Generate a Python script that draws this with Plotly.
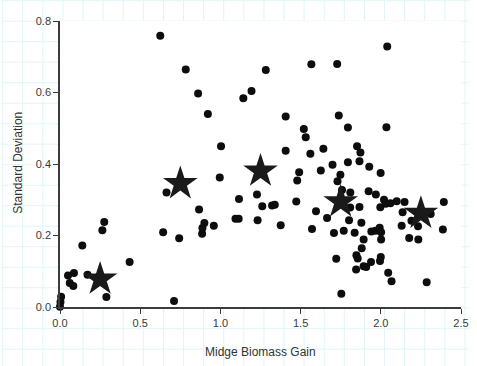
import plotly.graph_objects as go

# Individual observations
gain = [0.625, 0.784, 0.861, 0.922, 1.004, 1.143, 1.194, 1.283, 1.407, 1.407,
        2.040, 1.567, 1.728, 1.738, 1.520, 1.532, 1.795, 2.035, 1.561, 1.642,
        1.852, 1.873, 1.795, 1.867, 1.699, 1.928, 1.626, 1.491, 1.999, 1.479,
        1.748, 1.730, 1.758, 1.810, 1.924, 1.969, 2.020, 2.031, 2.060, 2.099,
        2.148, 1.473, 1.809, 1.867, 1.997, 1.596, 2.136, 2.311, 2.393, 1.665,
        1.802, 1.879, 2.191, 2.232, 2.130, 1.571, 1.708, 1.769, 1.837, 1.941,
        1.966, 1.993, 2.002, 2.002, 1.893, 2.177, 2.234, 2.387, 1.881, 1.722,
        1.848, 1.856, 2.000, 1.995, 1.939, 1.893, 1.909, 1.846, 2.046, 2.067,
        2.286, 1.754, 0.996, 0.664, 1.116, 1.228, 1.261, 1.322, 1.339, 0.867,
        1.094, 1.114, 1.232, 1.376, 0.900, 0.888, 0.959, 0.886, 0.643, 0.743,
        0.276, 0.264, 0.139, 0.434, 0.050, 0.087, 0.061, 0.083, 0.172, 0.289,
        0.711, 0.007, 0.003, 0.000]
sd = [0.759, 0.664, 0.597, 0.540, 0.450, 0.584, 0.604, 0.663, 0.533, 0.437,
      0.729, 0.679, 0.680, 0.536, 0.498, 0.475, 0.502, 0.503, 0.429, 0.443,
      0.450, 0.432, 0.405, 0.408, 0.398, 0.392, 0.382, 0.377, 0.375, 0.354,
      0.370, 0.352, 0.327, 0.320, 0.324, 0.315, 0.300, 0.289, 0.290, 0.296,
      0.294, 0.295, 0.278, 0.280, 0.279, 0.268, 0.265, 0.260, 0.294, 0.249,
      0.243, 0.236, 0.241, 0.226, 0.227, 0.218, 0.207, 0.213, 0.208, 0.211,
      0.213, 0.222, 0.209, 0.189, 0.189, 0.193, 0.189, 0.217, 0.164, 0.135,
      0.145, 0.136, 0.140, 0.129, 0.126, 0.114, 0.112, 0.105, 0.096, 0.072,
      0.069, 0.037, 0.362, 0.320, 0.302, 0.315, 0.282, 0.284, 0.286, 0.273,
      0.247, 0.247, 0.243, 0.229, 0.235, 0.221, 0.227, 0.205, 0.209, 0.192,
      0.238, 0.215, 0.172, 0.126, 0.088, 0.095, 0.067, 0.059, 0.090, 0.028,
      0.017, 0.029, 0.014, 0.001]

# Bin means (stars)
star_gain = [0.25, 0.75, 1.25, 1.75, 2.25]
star_sd = [0.078, 0.345, 0.380, 0.294, 0.262]

x_ticks = [0.0, 0.5, 1.0, 1.5, 2.0, 2.5]
y_ticks = [0.0, 0.2, 0.4, 0.6, 0.8]

W, H = 477, 366
ML, MR, MT, MB = 60, 8, 21, 59
pw, ph = W - ML - MR, H - MT - MB

fig = go.Figure()
fig.add_trace(go.Scatter(x=gain, y=sd, mode="markers",
                         marker=dict(size=8, color="#0d0d0d"),
                         cliponaxis=False, showlegend=False))
fig.add_trace(go.Scatter(x=star_gain, y=star_sd, mode="markers",
                         marker=dict(symbol="star", size=26, color="#1a1a1a"),
                         cliponaxis=False, showlegend=False))

# graph-paper background outside the plot area
shapes = []
grid_col = "#e2f4f5"
def px2x(p):
    return (p - ML) / pw
def py2y(p):
    return (H - MB - p) / ph
k = 0
while 1.5 + 20.5 * k < W:
    p = 1.5 + 20.5 * k
    shapes.append(dict(type="line", xref="paper", yref="paper", x0=px2x(p), x1=px2x(p),
                       y0=py2y(0), y1=py2y(H), line=dict(color=grid_col, width=1), layer="below"))
    k += 1
k = 0
while 0.7 + 20.5 * k < H:
    p = 0.7 + 20.5 * k
    shapes.append(dict(type="line", xref="paper", yref="paper", x0=px2x(0), x1=px2x(W),
                       y0=py2y(p), y1=py2y(p), line=dict(color=grid_col, width=1), layer="below"))
    k += 1
shapes.append(dict(type="rect", xref="paper", yref="paper", x0=0, x1=1, y0=0, y1=1,
                   fillcolor="white", line=dict(width=0), layer="below"))

axis_common = dict(showgrid=False, zeroline=False, showline=True, linecolor="#3c3c3c",
                   linewidth=1.5, ticks="outside", ticklen=5, tickcolor="#3c3c3c",
                   tickwidth=1.2, tickfont=dict(family="Liberation Sans, Arial", size=11, color="#3a3a3a"),
                   tickformat=".1f")

fig.update_layout(
    width=W, height=H,
    margin=dict(l=ML, r=MR, t=MT, b=MB, pad=0),
    paper_bgcolor="white", plot_bgcolor="rgba(0,0,0,0)",
    shapes=shapes,
    xaxis=dict(range=[0, 2.5], tickvals=x_ticks, **axis_common),
    yaxis=dict(range=[0, 0.8], tickvals=y_ticks, **axis_common),
    annotations=[
        dict(text="Midge Biomass Gain", xref="paper", yref="paper", x=0.5, y=py2y(352),
             showarrow=False, xanchor="center", yanchor="middle",
             font=dict(family="Liberation Sans, Arial", size=12, color="#333")),
        dict(text="Standard Deviation", xref="paper", yref="paper", x=px2x(17), y=py2y(163),
             showarrow=False, xanchor="center", yanchor="middle", textangle=-90,
             font=dict(family="Liberation Sans, Arial", size=12, color="#333")),
    ],
)

fig.write_html("out.html")
